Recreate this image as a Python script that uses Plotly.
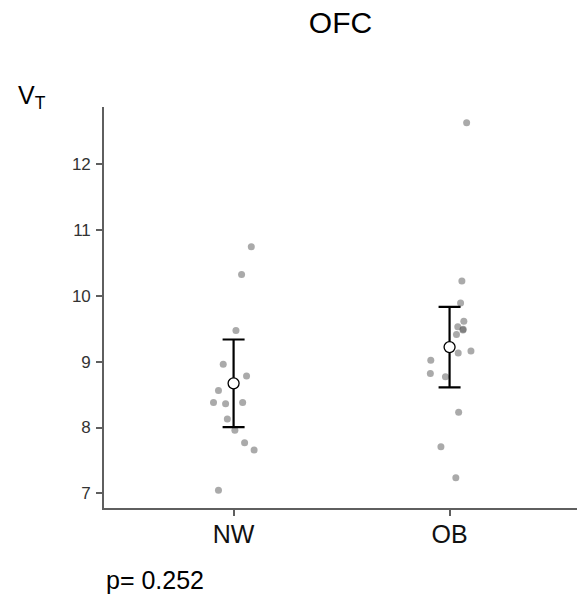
import plotly.graph_objects as go

# Groups and per-subject V_T values
groups = ["NW", "OB"]
nw_values = [10.74, 10.32, 9.47, 8.96, 8.78, 8.56, 8.38, 8.36, 8.38, 8.13, 7.96, 7.77, 7.66, 7.05]
nw_jitter = [0.082, 0.037, 0.011, -0.048, 0.060, -0.070, -0.093, -0.037, 0.042, -0.029, 0.006, 0.051, 0.095, -0.070]
ob_values = [12.62, 10.22, 9.89, 9.61, 9.53, 9.48, 9.49, 9.41, 9.16, 9.13, 9.02, 8.82, 8.77, 8.23, 7.71, 7.24]
ob_jitter = [0.079, 0.057, 0.051, 0.066, 0.038, 0.062, 0.063, 0.032, 0.099, 0.040, -0.087, -0.089, -0.019, 0.042, -0.040, 0.029]

# Group summaries (mean and error bar half-width)
group_means = [8.67, 9.22]
group_errors = [0.665, 0.61]

p_value = 0.252

axis_color = "#5f5f5f"
font_family = "Liberation Sans, Arial, Helvetica, sans-serif"

fig = go.Figure()

for gi, (vals, jit) in enumerate([(nw_values, nw_jitter), (ob_values, ob_jitter)]):
    fig.add_trace(go.Scatter(
        x=[gi + 1 + j for j in jit],
        y=vals,
        mode="markers",
        marker=dict(size=7, color="rgba(85,85,85,0.5)", line=dict(width=0)),
        hoverinfo="y",
        showlegend=False,
    ))

fig.add_trace(go.Scatter(
    x=[i + 1 for i in range(len(groups))],
    y=group_means,
    mode="markers",
    marker=dict(size=11, color="white", line=dict(color="black", width=1.3)),
    error_y=dict(type="data", array=group_errors, visible=True,
                 color="black", thickness=2.2, width=11),
    showlegend=False,
))

fig.update_layout(
    width=581,
    height=606,
    margin=dict(l=104, r=4, t=107, b=98),
    paper_bgcolor="white",
    plot_bgcolor="white",
    font=dict(family=font_family, color="#222"),
    title=dict(text="OFC", x=(104 + 577) / 2 / 581, xanchor="center",
               y=1 - 22 / 606, yanchor="middle",
               font=dict(size=30, color="black", family=font_family)),
    xaxis=dict(
        range=[0.4, 2.59],
        tickvals=[1, 2],
        ticktext=groups,
        showline=True, linecolor=axis_color, linewidth=1.6,
        ticks="outside", ticklen=6, tickwidth=1.6, tickcolor=axis_color,
        showgrid=False, zeroline=False,
        ticklabelstandoff=-3,
        tickfont=dict(size=25, color="#111"),
    ),
    yaxis=dict(
        range=[6.78, 12.86],
        tickvals=[7, 8, 9, 10, 11, 12],
        showline=True, linecolor=axis_color, linewidth=1.6,
        ticks="outside", ticklen=6, tickwidth=1.6, tickcolor=axis_color,
        showgrid=False, zeroline=False,
        ticklabelstandoff=2,
        tickfont=dict(size=17, color="#333"),
    ),
    annotations=[
        dict(text="V<sub>T</sub>", xref="paper", yref="paper",
             x=-104 / 473 + 16 / 473, y=(606 - 98 - 97) / 401,
             xanchor="left", yanchor="middle", showarrow=False,
             font=dict(size=25, color="black")),
        dict(text=f"p= {p_value:.3f}", xref="paper", yref="paper",
             x=0, y=-(580 - 508) / 401, xanchor="left", yanchor="middle",
             showarrow=False, font=dict(size=25, color="black")),
    ],
)

fig.write_html("out.html")
